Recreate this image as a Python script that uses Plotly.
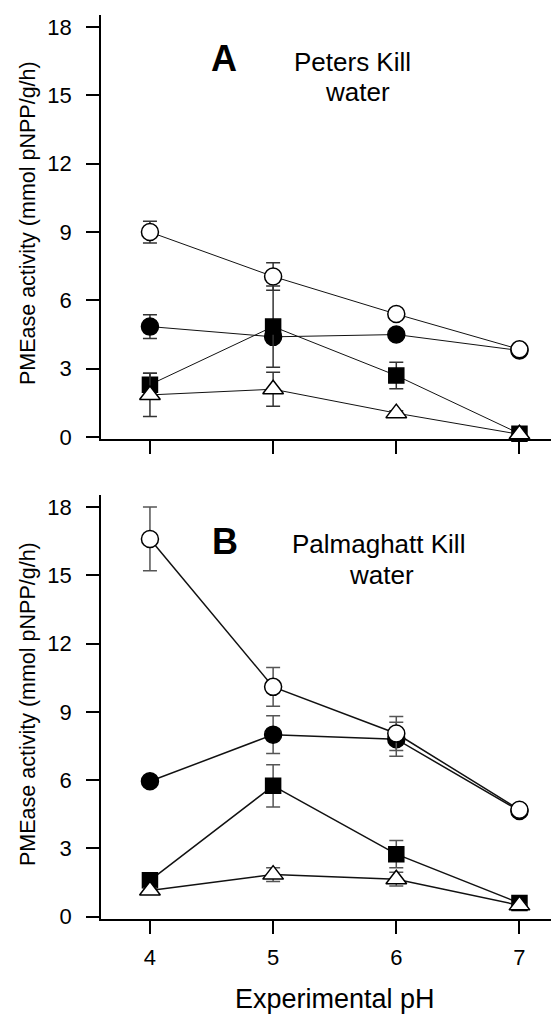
import plotly.graph_objects as go

ph = [4, 5, 6, 7]
x_tick_labels = ["4", "5", "6", "7"]
y_ticks = [0, 3, 6, 9, 12, 15, 18]

# Panel A: Peters Kill water
a_open_circle = [9.0, 7.05, 5.4, 3.85]
a_open_circle_err = [0.48, 0.6, 0.15, 0.1]
a_filled_circle = [4.85, 4.4, 4.5, 3.8]
a_filled_circle_err = [0.52, 0.2, 0.15, 0.1]
a_filled_square = [2.3, 4.85, 2.7, 0.15]
a_filled_square_err = [0.5, 1.78, 0.58, 0.1]
a_open_triangle = [1.85, 2.1, 1.05, 0.12]
a_open_triangle_err = [0.95, 0.75, 0.1, 0.05]

# Panel B: Palmaghatt Kill water
b_open_circle = [16.6, 10.1, 8.05, 4.7]
b_open_circle_err = [1.4, 0.85, 0.75, 0.1]
b_filled_circle = [5.95, 8.0, 7.8, 4.65]
b_filled_circle_err = [0.1, 0.83, 0.75, 0.1]
b_filled_square = [1.6, 5.75, 2.75, 0.6]
b_filled_square_err = [0.2, 0.93, 0.6, 0.1]
b_open_triangle = [1.15, 1.85, 1.65, 0.5]
b_open_triangle_err = [0.1, 0.3, 0.3, 0.05]

FONT = "Liberation Sans, Arial, sans-serif"

fig = go.Figure()


def add_series(y, err, symbol, fill, xa, ya, line_w, err_color):
    size = {"circle": 17, "square": 15, "triangle-up": 18}[symbol]
    fig.add_trace(go.Scatter(
        x=ph, y=y, xaxis=xa, yaxis=ya, mode="lines+markers",
        line=dict(color="#111111", width=line_w),
        marker=dict(symbol=symbol, size=size, color=fill,
                    line=dict(color="black", width=1.5)),
        error_y=dict(type="data", array=err, visible=True, color=err_color,
                     thickness=1.5, width=7),
        cliponaxis=False, showlegend=False,
    ))


panels = [
    ("x", "y", a_filled_circle, a_filled_circle_err, a_open_circle, a_open_circle_err,
     a_filled_square, a_filled_square_err, a_open_triangle, a_open_triangle_err, 1.0, "#333333"),
    ("x2", "y2", b_filled_circle, b_filled_circle_err, b_open_circle, b_open_circle_err,
     b_filled_square, b_filled_square_err, b_open_triangle, b_open_triangle_err, 1.5, "#555555"),
]
for xa, ya, fc, fce, oc, oce, fs_, fse, ot, ote, lw, ec in panels:
    add_series(fc, fce, "circle", "black", xa, ya, lw, ec)
    add_series(oc, oce, "circle", "white", xa, ya, lw, ec)
    add_series(fs_, fse, "square", "black", xa, ya, lw, ec)
    add_series(ot, ote, "triangle-up", "white", xa, ya, lw, ec)

axis_common = dict(
    showline=True, linecolor="black", linewidth=1.5, showgrid=False, zeroline=False,
    ticks="outside", ticklen=13, tickwidth=1.5, tickcolor="black",
    tickfont=dict(family=FONT, size=22, color="black"),
)
xr = [3.6026, 7.321]
yr = [-0.1, 18.53]
# plot area spans 904.3 px vertically
fig.update_layout(
    width=551, height=1006,
    margin=dict(l=92.5, r=0, t=7, b=94.7),
    paper_bgcolor="white", plot_bgcolor="white",
    xaxis=dict(domain=[0, 1], range=xr, anchor="y", tickvals=ph, ticktext=x_tick_labels,
               showticklabels=False, **axis_common),
    yaxis=dict(domain=[0.5306, 1], range=yr, anchor="x", tickvals=y_ticks,
               ticklabelstandoff=10, **axis_common),
    xaxis2=dict(domain=[0, 1], range=xr, anchor="y2", tickvals=ph, ticktext=x_tick_labels,
                ticklabelstandoff=5, **axis_common),
    yaxis2=dict(domain=[0, 0.469], range=yr, anchor="x2", tickvals=y_ticks,
                ticklabelstandoff=10, **axis_common),
)

ann = [
    dict(text="<b>A</b>", x=0.268, y=0.9524, size=36),
    dict(text="Peters Kill", x=0.549, y=0.9476, size=26),
    dict(text="water", x=0.560, y=0.9145, size=26),
    dict(text="<b>B</b>", x=0.270, y=0.418, size=36),
    dict(text="Palmaghatt Kill", x=0.6068, y=0.4153, size=26),
    dict(text="water", x=0.612, y=0.381, size=26),
    dict(text="Experimental pH", x=0.512, y=-0.089, size=27),
]
for a in ann:
    fig.add_annotation(text=a["text"], x=a["x"], y=a["y"], xref="paper", yref="paper",
                       xanchor="center", yanchor="middle", showarrow=False,
                       font=dict(family=FONT, size=a["size"], color="black"))

for yc in [0.770, 0.238]:
    fig.add_annotation(text="PMEase activity (mmol pNPP/g/h)", x=-0.159, y=yc,
                       xref="paper", yref="paper", xanchor="center", yanchor="middle",
                       textangle=-90, showarrow=False,
                       font=dict(family=FONT, size=21.5, color="black"))

fig.write_html("out.html")
